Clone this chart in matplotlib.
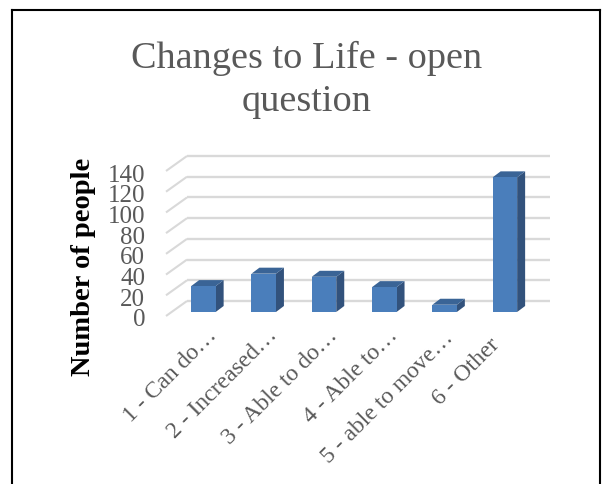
import matplotlib
matplotlib.use("Agg")
import matplotlib.pyplot as plt
from matplotlib.patches import Polygon, Rectangle
from matplotlib.transforms import offset_copy, Affine2D

categories = ["1 - Can do…", "2 - Increased…", "3 - Able to do…", "4 - Able to…",
              "5 - able to move…", "6 - Other"]
values = [25, 37, 34, 24, 7, 130]
yticks = [0, 20, 40, 60, 80, 100, 120, 140]
title = "Changes to Life - open\nquestion"
ylabel = "Number of people"

W, H = 603, 484
FONT = ["Liberation Serif", "DejaVu Serif"]
TXT = "#595959"
FRONT = "#4a7ebb"
SIDE = "#32527c"
TOP = "#3a6496"
GRID = "#d9d9d9"

fig = plt.figure(figsize=(W / 100, H / 100), dpi=100, facecolor="white")

# chart frame (open at the bottom of the picture)
for xs, ys in [([11.5 / W, 11.5 / W], [0, 1 - 10 / H]),
               ([600 / W, 600 / W], [0, 1 - 10 / H]),
               ([11.5 / W, 600 / W], [1 - 10 / H, 1 - 10 / H])]:
    fig.add_artist(plt.Line2D(xs, ys, color="black", lw=1.5))

L, R, B, T = 166, 529, 316, 171
ax = fig.add_axes([L / W, 1 - B / H, (R - L) / W, (B - T) / H])
ax.patch.set_alpha(0)
ax.set_xlim(-0.62, 5.40)
ax.set_ylim(0, 140)
for s in ax.spines.values():
    s.set_visible(False)


def shifted(dx, dy):
    return offset_copy(ax.transData, fig=fig, x=dx, y=dy, units="dots")


# gridlines: floor/side diagonal + back wall
back = shifted(21, 15)
x0, x1 = ax.get_xlim()
xright = x1 + (550 - 529 - 21) / (363 / (x1 - x0))
for v in yticks:
    ax.plot([x0, x0 + 21 / (363 / (x1 - x0))], [v, v + 15 / (145 / 140)],
            color=GRID, lw=1.5, clip_on=False, zorder=1, solid_capstyle="butt")
    ax.plot([x0, xright], [v, v], color=GRID, lw=1.7, clip_on=False,
            zorder=1, transform=back, solid_capstyle="butt")

# 3-D looking bars
base = shifted(0, 4)
bw = 24.5 / 60.3
dxd = 8 / (363 / (x1 - x0))
dyd = 6 / (145 / 140)
for i, v in enumerate(values):
    l, r = i - bw / 2, i + bw / 2
    ax.add_patch(Polygon([(r, 0), (r + dxd, dyd), (r + dxd, v + dyd), (r, v)], closed=True,
                         fc=SIDE, ec="none", transform=base, clip_on=False, zorder=3))
    ax.add_patch(Polygon([(l, v), (r, v), (r + dxd, v + dyd), (l + dxd, v + dyd)], closed=True,
                         fc=TOP, ec="none", transform=base, clip_on=False, zorder=3))
    ax.add_patch(Rectangle((l, 0), r - l, v, fc=FRONT, ec="none", transform=base,
                           clip_on=False, zorder=4))

ax.set_yticks(yticks)
ax.set_yticklabels([str(v) for v in yticks], family=FONT, fontsize=18, color=TXT)
ax.tick_params(axis="y", length=0, pad=15)
for lbl in ax.get_yticklabels():
    lbl.set_transform(lbl.get_transform() + Affine2D().translate(0, -2))
ax.set_xticks(range(len(categories)))
ax.set_xticklabels(categories, family=FONT, fontsize=17, color=TXT, rotation=45,
                   ha="right", va="center", rotation_mode="anchor")
ax.tick_params(axis="x", length=0, pad=14)
# the last, untruncated label sits a little further left and lower in the reference
lab = ax.get_xticklabels()
for lbl, (dx, dy) in zip(lab, [(10, 3), (10, 3), (10, 3), (10, 3), (6, 0), (-8, -6)]):
    lbl.set_transform(lbl.get_transform() + Affine2D().translate(dx, dy))

fig.text(307 / W, 1 - 80 / H, title, family=FONT, fontsize=27.5, color=TXT, ha="center",
         va="center", linespacing=1.32)
fig.text(83 / W, 1 - 267 / H, ylabel, family=FONT, fontsize=20.5, fontweight="bold",
         color="black", rotation=90, ha="center", va="center")

fig.savefig("out.png", dpi=100)
